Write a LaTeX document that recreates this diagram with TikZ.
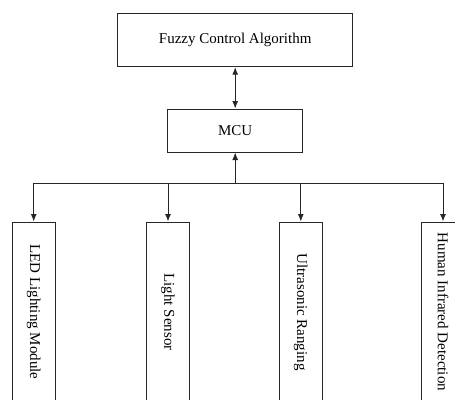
\documentclass[tikz,border=0pt]{standalone}
\usepackage{fontspec}
\setmainfont{Liberation Serif}
\usetikzlibrary{arrows.meta}
\begin{document}
\begin{tikzpicture}[x=1pt,y=-1pt,
  box/.style={draw=black!85, line width=1pt, inner sep=0pt, font=\fontsize{15}{18}\selectfont},
  vbox/.style={box, minimum width=42.6pt, minimum height=180pt},
  arr/.style={draw=black!85, line width=1pt, -{Latex[length=7.5pt,width=6pt]}},
  line/.style={draw=black!85, line width=1pt}]
\useasboundingbox (0,0) rectangle (455,399);
\node[box, minimum width=235pt, minimum height=53.4pt] (fuzzy) at (235.2,40) {Fuzzy Control Algorithm};
\node[box, minimum width=135pt, minimum height=43pt] (mcu) at (235.2,130.5) {MCU};
\node[vbox] (led) at (33.7,312) {\rotatebox{-90}{LED Lighting Module}};
\node[vbox] (light) at (168,312) {\rotatebox{-90}{Light Sensor}};
\node[vbox] (ultra) at (300.8,312) {\rotatebox{-90}{Ultrasonic Ranging}};
\node[vbox] (human) at (443,312) {\rotatebox{-90}{Human Infrared Detection}};
\draw[arr, {Latex[length=7.5pt,width=6pt]}-{Latex[length=7.5pt,width=6pt]}] (fuzzy.south) -- (mcu.north);
\coordinate (bus) at (235.2,183);
\coordinate (bl) at (33.7,183);
\coordinate (br) at (443,183);
\draw[arr] (bus) -- (mcu.south);
\draw[line] (bl) -- (br);
\draw[arr] (bl) -- (led.north);
\draw[arr] (light.north |- bus) -- (light.north);
\draw[arr] (ultra.north |- bus) -- (ultra.north);
\draw[arr] (br) -- (human.north);
\end{tikzpicture}
\end{document}
